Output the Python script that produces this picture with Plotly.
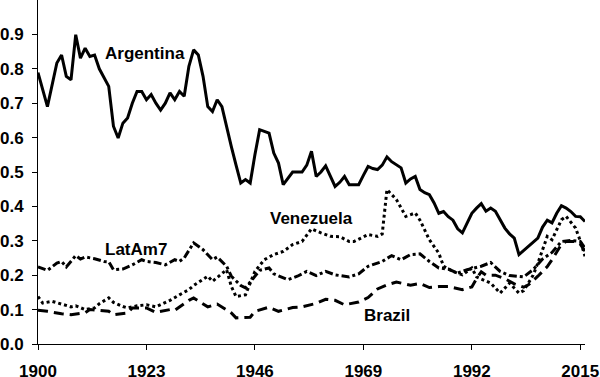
import plotly.graph_objects as go

arg_years = [1900,1902,1904,1905,1906,1907,1908,1909,1910,1911,1912,1913,1915,1916,1917,1918,1919,1920,1921,1922,1923,1924,1925,1926,1927,1928,1929,1930,1931,1932,1933,1934,1935,1936,1937,1938,1939,1940,1941,1942,1943,1944,1945,1946,1947,1948,1949,1950,1951,1952,1953,1954,1955,1956,1957,1958,1959,1960,1961,1962,1963,1964,1965,1966,1967,1968,1969,1970,1971,1972,1973,1974,1975,1976,1977,1978,1979,1980,1981,1982,1983,1984,1985,1986,1987,1988,1989,1990,1991,1992,1993,1994,1995,1996,1997,1998,1999,2000,2001,2002,2003,2004,2005,2006,2007,2008,2009,2010,2011,2012,2013,2014,2015,2016]
arg_vals = [0.789,0.69,0.817,0.84,0.778,0.768,0.899,0.831,0.86,0.836,0.84,0.80,0.749,0.633,0.599,0.642,0.657,0.70,0.734,0.734,0.71,0.725,0.70,0.68,0.70,0.73,0.71,0.734,0.72,0.807,0.855,0.84,0.778,0.69,0.676,0.71,0.69,0.63,0.574,0.52,0.468,0.478,0.468,0.55,0.623,0.618,0.613,0.555,0.526,0.463,0.48,0.50,0.50,0.50,0.52,0.56,0.487,0.50,0.518,0.49,0.458,0.47,0.487,0.463,0.463,0.463,0.49,0.516,0.51,0.507,0.52,0.544,0.53,0.52,0.512,0.468,0.48,0.487,0.449,0.44,0.434,0.41,0.38,0.385,0.37,0.36,0.335,0.323,0.35,0.38,0.395,0.408,0.386,0.395,0.386,0.36,0.337,0.32,0.308,0.26,0.272,0.284,0.295,0.308,0.34,0.36,0.352,0.38,0.402,0.395,0.385,0.371,0.37,0.356]

lat_years = [1900,1902,1904,1905,1906,1908,1909,1910,1912,1914,1915,1916,1918,1920,1922,1923,1925,1927,1929,1930,1931,1932,1933,1935,1937,1938,1940,1941,1943,1944,1946,1947,1949,1950,1953,1955,1957,1959,1961,1963,1966,1968,1970,1973,1975,1977,1979,1981,1983,1985,1987,1989,1991,1994,1996,1998,2000,2003,2005,2007,2009,2011,2013,2015,2016]
lat_vals = [0.224,0.214,0.235,0.24,0.224,0.257,0.247,0.253,0.248,0.24,0.239,0.216,0.218,0.23,0.245,0.24,0.237,0.23,0.245,0.24,0.25,0.274,0.294,0.274,0.245,0.253,0.226,0.197,0.17,0.163,0.197,0.214,0.221,0.204,0.187,0.197,0.211,0.199,0.211,0.201,0.195,0.204,0.226,0.24,0.257,0.245,0.26,0.262,0.24,0.221,0.218,0.206,0.216,0.226,0.237,0.211,0.199,0.195,0.216,0.247,0.266,0.298,0.301,0.298,0.279]

bra_years = [1900,1902,1905,1907,1910,1911,1915,1916,1919,1920,1923,1925,1928,1929,1932,1933,1936,1938,1941,1942,1945,1946,1949,1951,1954,1956,1959,1961,1963,1965,1968,1970,1972,1974,1976,1979,1981,1983,1985,1987,1990,1992,1993,1994,1995,1997,1999,2001,2003,2004,2006,2008,2009,2011,2012,2014,2015,2016]
bra_vals = [0.098,0.095,0.088,0.085,0.091,0.10,0.095,0.085,0.09,0.105,0.105,0.092,0.10,0.098,0.127,0.134,0.108,0.116,0.09,0.076,0.078,0.095,0.107,0.095,0.106,0.108,0.118,0.13,0.127,0.114,0.122,0.135,0.16,0.172,0.18,0.171,0.176,0.164,0.167,0.167,0.158,0.166,0.19,0.21,0.2,0.2,0.19,0.175,0.165,0.172,0.197,0.225,0.245,0.29,0.298,0.298,0.29,0.27]

ven_years = [1900,1901,1903,1905,1907,1908,1910,1912,1913,1915,1916,1918,1919,1921,1923,1925,1926,1928,1930,1932,1933,1935,1936,1937,1939,1940,1941,1942,1944,1945,1946,1948,1950,1952,1954,1956,1958,1960,1962,1964,1966,1967,1970,1972,1973,1974,1976,1978,1980,1981,1983,1985,1986,1988,1990,1992,1993,1996,1998,2000,2002,2003,2005,2006,2008,2009,2011,2012,2014,2015,2016]
ven_vals = [0.138,0.119,0.124,0.117,0.108,0.111,0.10,0.105,0.117,0.134,0.121,0.109,0.105,0.111,0.114,0.108,0.114,0.127,0.143,0.158,0.17,0.187,0.197,0.182,0.206,0.216,0.167,0.138,0.143,0.177,0.211,0.245,0.26,0.269,0.289,0.298,0.335,0.323,0.313,0.312,0.298,0.298,0.318,0.313,0.32,0.449,0.42,0.371,0.381,0.36,0.303,0.264,0.226,0.211,0.201,0.221,0.195,0.177,0.148,0.177,0.148,0.155,0.2,0.235,0.313,0.303,0.361,0.371,0.337,0.3,0.255]

x_ticks = [1900, 1923, 1946, 1969, 1992, 2015]
y_ticks = [0.0, 0.1, 0.2, 0.3, 0.4, 0.5, 0.6, 0.7, 0.8, 0.9]
y_tick_text = ["0.0", "0.1", "0.2", "0.3", "0.4", "0.5", "0.6", "0.7", "0.8", "0.9"]

labels = ["Argentina", "Venezuela", "LatAm7", "Brazil"]
label_x = [1922.7, 1958.0, 1920.8, 1974.0]
label_y = [0.844, 0.364, 0.276, 0.084]

FONT = "Liberation Sans"
fig = go.Figure()
fig.add_trace(go.Scatter(x=arg_years, y=arg_vals, mode="lines", name="Argentina",
                         line=dict(color="black", width=3)))
fig.add_trace(go.Scatter(x=lat_years, y=lat_vals, mode="lines", name="LatAm7",
                         line=dict(color="black", width=3, dash="8px,3px,3px,3px")))
fig.add_trace(go.Scatter(x=bra_years, y=bra_vals, mode="lines", name="Brazil",
                         line=dict(color="black", width=3, dash="10px,6px")))
fig.add_trace(go.Scatter(x=ven_years, y=ven_vals, mode="lines", name="Venezuela",
                         line=dict(color="black", width=3, dash="3px,3px")))

for t, lx, ly in zip(labels, label_x, label_y):
    fig.add_annotation(x=lx, y=ly, text=t, showarrow=False, xref="x", yref="y",
                       font=dict(family=FONT, size=17, color="black", weight="bold"))

fig.update_layout(
    width=600, height=377,
    margin=dict(l=38, r=15, t=0, b=33, autoexpand=False),
    paper_bgcolor="white", plot_bgcolor="white",
    showlegend=False,
)
fig.update_xaxes(range=[1900, 2016], tickvals=x_ticks, ticktext=[str(v) for v in x_ticks],
                 showgrid=False, zeroline=False, showline=True, linecolor="black", linewidth=1,
                 ticks="outside", ticklen=5, tickcolor="black", tickwidth=1,
                 ticklabelstandoff=7, automargin=False,
                 tickfont=dict(family=FONT, size=17, color="black", weight="bold"))
fig.update_yaxes(range=[0, 1.0], tickvals=y_ticks, ticktext=y_tick_text,
                 showgrid=False, zeroline=False, showline=True, linecolor="black", linewidth=1,
                 ticks="outside", ticklen=5, tickcolor="black", tickwidth=1,
                 ticklabelstandoff=5, automargin=False,
                 tickfont=dict(family=FONT, size=17, color="black", weight="bold"))

fig.write_html("out.html", config={"displayModeBar": False},
               post_script="document.body.style.margin='0px';")
